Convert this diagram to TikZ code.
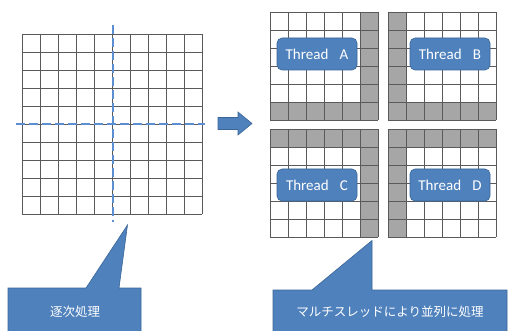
\documentclass[tikz,border=0pt]{standalone}
\usepackage{fontspec}
\setmainfont{Carlito}
\newfontfamily\cjk{Noto Sans CJK JP}
\definecolor{boxblue}{HTML}{4F81BD}
\definecolor{boxedge}{HTML}{3A6696}
\definecolor{dashblue}{HTML}{5B8FD2}
\definecolor{cellgray}{HTML}{A6A6A6}
\definecolor{gridline}{HTML}{5A5A5A}
\tikzset{
  gridlines/.style={draw=gridline, line width=0.7pt},
  shaded/.style={fill=cellgray},
  splitline/.style={draw=dashblue, line width=1.3pt, dash pattern=on 9pt off 4pt},
  threadbox/.style={rectangle, rounded corners=5pt, fill=boxblue, draw=boxedge,
    line width=0.6pt, minimum width=80pt, minimum height=32pt, text=white,
    font=\fontsize{15}{15}\selectfont, inner sep=0pt},
  bluefill/.style={fill=boxblue, draw=boxedge, line width=0.6pt},
  calltext/.style={text=white, font=\cjk\fontsize{12.5}{13}\selectfont, inner sep=0pt},
}
% \cellgrid{x0}{y0}{cells}: square grid of 18pt cells from corner (x0,y0)
\newcommand\cellgrid[3]{%
  \foreach \k in {0,...,#3}{
    \draw[gridlines] ({#1+18*\k},#2) -- ({#1+18*\k},{#2+18*#3});
    \draw[gridlines] (#1,{#2+18*\k}) -- ({#1+18*#3},{#2+18*\k});
  }}
\begin{document}
\begin{tikzpicture}[x=1pt, y=-1pt]
\useasboundingbox (0,0) rectangle (508,331);
\fill[white] (0,0) rectangle (508,331);

% sequential grid, 10 x 10 cells
\cellgrid{22}{34}{10}
\draw[splitline] (113,25) -- (113,222);
\draw[splitline] (16,124) -- (205,124);

% arrow between the two views
\draw[bluefill] (218,117.5) -- (238,117.5) -- (238,112) -- (252,123.5)
  -- (238,135) -- (238,129.5) -- (218,129.5) -- cycle;

% shaded halo cells of each quarter
% A: right column + bottom row
\fill[shaded] (360,12) rectangle (378,120);
\fill[shaded] (270,102) rectangle (378,120);
% B: left column + bottom row
\fill[shaded] (388,12) rectangle (406,120);
\fill[shaded] (388,102) rectangle (496,120);
% C: top row + right column
\fill[shaded] (270,129) rectangle (378,147);
\fill[shaded] (360,129) rectangle (378,237);
% D: top row + left column
\fill[shaded] (388,129) rectangle (496,147);
\fill[shaded] (388,129) rectangle (406,237);

% quarter grids, 6 x 6 cells
\cellgrid{270}{12}{6}
\cellgrid{388}{12}{6}
\cellgrid{270}{129}{6}
\cellgrid{388}{129}{6}

\node[threadbox] (ta) at (317,54) {Thread\hspace{0.75em}A};
\node[threadbox] (tb) at (450,54) {Thread\hspace{0.75em}B};
\node[threadbox] (tc) at (317,185) {Thread\hspace{0.75em}C};
\node[threadbox] (td) at (450,185) {Thread\hspace{0.75em}D};

% callouts
\draw[bluefill] (8,288) -- (86,288) -- (127.5,225) -- (119,288) -- (141,288)
  -- (141,334) -- (8,334) -- cycle;
\node[calltext] (seq) at (75,312) {逐次処理};

\draw[bluefill] (273,290) -- (312,290) -- (372,240.5) -- (372,290) -- (507,290)
  -- (507,334) -- (273,334) -- cycle;
\node[calltext] (par) at (390,312) {マルチスレッドにより並列に処理};
\end{tikzpicture}
\end{document}
